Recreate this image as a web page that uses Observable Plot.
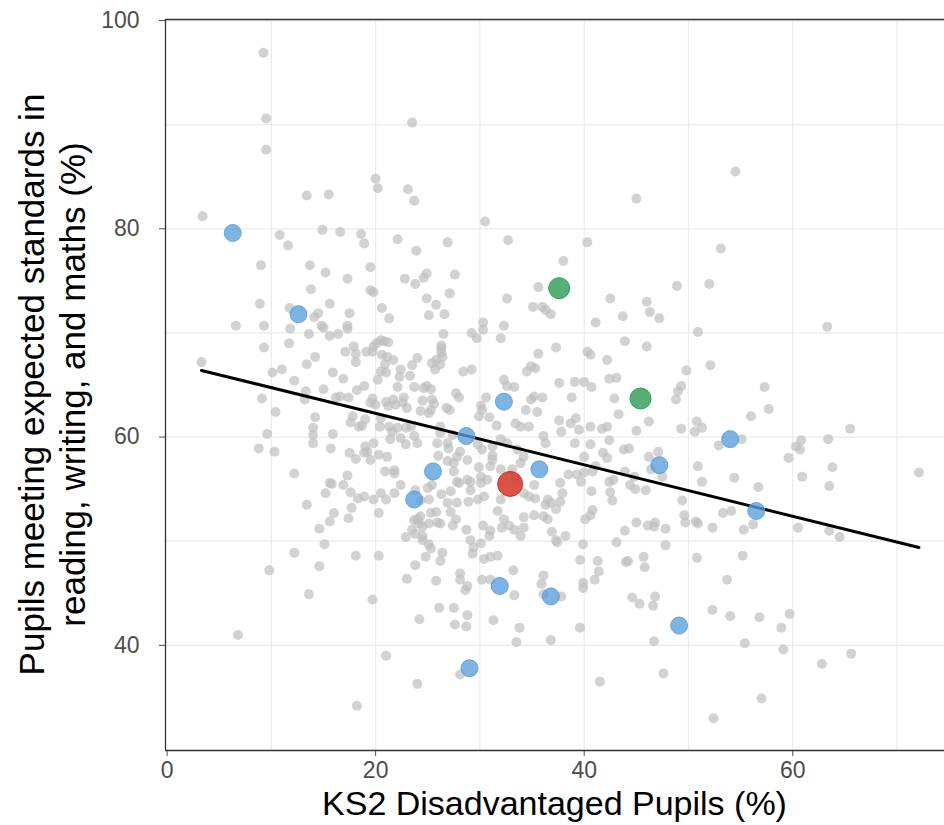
<!DOCTYPE html>
<html>
<head>
<meta charset="utf-8">
<script src="https://cdn.jsdelivr.net/npm/d3@7"></script>
<script src="https://cdn.jsdelivr.net/npm/@observablehq/plot@0.6"></script>
<style>
  html, body { margin: 0; padding: 0; background: #fff; }
  #chart { width: 944px; height: 825px; }
</style>
</head>
<body>
<div id="chart"></div>
<script>
// ---- Data ----
const xTitle = "KS2 Disadvantaged Pupils (%)";
const yTitleLines = ["Pupils meeting expected standards in", "reading, writing, and maths (%)"];
const xTicks = [0, 20, 40, 60];
const yTicks = [40, 60, 80, 100];
const xGrid = [10, 20, 30, 40, 50, 60, 70];
const yGrid = [40, 50, 60, 70, 80, 90, 100];
const xDomain = [-0.15, 74.55];
const yDomain = [29.9, 100.1];

// grey: all other schools, as [x, y] pairs
const greyPoints = [
[9.25,96.9],[9.5,90.6],[9.5,87.6],[13.4,83.2],[15.5,83.3],[3.4,81.2],[10.8,79.4],[11.6,78.4],[14.9,79.9],[16.6,79.7],[18.6,79.5],[18.9,78.6],[9.0,76.5],[13.7,76.5],
[23.5,90.2],[20.0,84.8],[20.2,83.9],[23.1,83.8],[23.7,82.7],[30.5,80.7],[22.1,79.0],[23.9,77.9],[26.9,78.7],[32.7,78.9],[19.5,76.3],
[54.5,85.5],[45.0,82.9],[40.3,78.7],[38.0,76.9],[53.1,78.1],
[15.2,75.8],[17.3,75.2],[13.8,74.2],[8.9,72.8],[15.6,72.8],[11.75,72.4],[14.5,71.9],[14.1,71.5],[17.5,71.9],[6.6,70.7],[9.3,70.7],[14.8,70.7],[15.0,70.5],[17.3,70.7],[17.3,70.4],[11.8,70.4],[13.6,69.9],[15.6,69.7],[16.4,69.9],[9.3,68.6],[11.7,69.0],[17.9,68.7],[17.1,68.2],[14.2,67.7],[18.1,68.0],[18.1,67.2],[3.3,67.2],[13.4,67.0],[11.0,66.5],[10.1,66.2],[15.9,66.2],[16.9,65.6],[12.2,65.4],[15.0,64.6],[13.3,64.4],[18.2,64.5],[9.1,63.7],[13.2,63.6],[16.2,63.8],[16.6,63.9],[17.4,63.8],[10.4,62.4],[14.2,61.9],[17.8,62.0],[17.6,61.4],[18.4,61.0],[14.0,60.9],[14.0,60.2],[15.9,60.3],[9.6,60.3],[14.0,59.4],[8.8,58.9],[10.3,58.6],[15.7,58.9],[17.5,58.5],[18.1,57.9],[12.2,56.5],[17.3,56.3],[15.6,55.6],[15.8,55.5],[16.9,55.4],[15.2,54.6],[17.6,54.7],[18.3,54.1],[13.4,53.5],[17.7,53.2],
[16.0,52.7],[17.4,52.2],[15.6,51.9],[14.6,51.2],[15.1,49.7],[12.2,48.9],[18.1,48.6],[9.8,47.2],[14.6,47.6],[13.6,44.9],[6.8,41.0],[18.2,34.2],
[22.8,75.2],[23.8,74.7],[24.6,75.3],[24.9,75.7],[27.6,75.6],[19.5,74.1],[19.8,73.9],[24.9,73.3],[25.8,72.7],[27.1,73.8],[20.6,72.4],[21.3,71.4],[25.1,71.7],[26.6,71.8],[32.6,73.3],[35.6,74.4],[35.1,72.5],[36.0,72.5],[36.3,72.2],[36.8,71.8],[30.3,71.0],[30.3,70.3],[32.3,70.7],[29.2,70.0],[29.7,69.5],[32.0,69.5],[26.5,69.9],[26.3,68.8],[26.3,68.5],[20.5,69.3],[20.1,69.0],[19.8,68.7],[20.8,69.2],[21.2,69.1],[19.1,68.2],[19.7,68.2],[20.6,67.9],[21.1,67.7],[21.7,67.4],[26.3,68.1],[25.8,67.4],[26.4,67.7],[25.4,67.1],[26.2,67.0],[24.0,67.6],[23.5,66.9],[22.4,66.5],[20.9,67.0],[20.5,66.3],[21.0,66.2],[20.2,65.5],[25.7,66.5],[28.4,66.3],[29.2,66.5],[22.3,65.8],[23.3,65.9],[18.9,64.9],[22.1,64.8],[23.7,64.8],[24.6,64.7],[24.9,64.9],[25.3,64.6],[27.7,64.2],[28.0,63.8],[32.3,65.5],[32.6,64.9],[33.3,64.8],[34.5,66.3],[34.9,66.8],[35.3,66.6],[35.6,68.0],[30.6,63.8],[19.7,63.7],[19.5,63.3],[20.0,63.1],[21.0,63.4],[21.2,63.0],[21.7,63.6],[21.9,63.1],[22.7,63.8],[22.6,63.3],[23.0,62.8],[24.5,63.5],[25.4,63.6],[25.6,63.2],[24.3,62.5],[25.1,62.3],[25.3,62.6],[26.8,62.8],[27.1,62.6],[30.1,63.0],[30.2,62.6],[30.9,61.9],[31.6,61.1],[29.9,62.0],[33.4,61.3],[33.9,61.0],[34.7,61.0],[34.4,62.6],[34.9,63.6],[35.2,63.9],[36.0,63.8],[35.5,62.4],[18.7,61.1],[19.0,61.7],[20.5,61.8],[20.4,61.0],[21.3,61.0],[21.6,60.5],[22.1,60.9],[22.9,60.9],[23.4,61.0],[22.4,59.9],[23.7,60.1],[24.0,59.4],[22.9,59.3],[21.4,59.8],[19.8,59.4],[19.0,59.1],[18.9,58.5],[26.2,61.0],[26.2,60.4],[27.4,60.2],[26.9,59.4],[27.0,58.9],[25.9,59.4],[29.8,59.3],[30.2,58.8],[31.2,59.1],[31.2,58.2],[32.0,59.8],[32.6,59.4],[33.6,58.8],[33.9,57.5],[36.1,60.1],[36.3,59.4],[34.2,58.1],[19.2,58.6],[20.3,58.3],[21.1,58.1],[19.5,57.8],[20.9,56.7],[21.8,56.8],[21.8,56.5],[26.0,58.2],[26.9,57.7],[27.5,57.5],[27.8,58.1],[28.1,58.6],[28.8,57.8],[27.5,56.7],[27.8,55.7],[28.8,55.9],[29.1,55.7],[29.9,57.1],[30.1,56.2],[30.7,55.9],[31.0,57.2],[31.2,57.8],[30.1,55.6],[29.1,54.9],[28.9,53.8],[32.0,56.9],[33.1,56.9],[33.4,55.9],[35.2,55.4],[34.2,54.6],[34.7,54.3],[35.3,54.1],[36.5,54.0],[36.8,53.7],[36.3,53.5],[22.4,55.4],[21.8,54.6],[20.5,54.6],[21.0,54.0],[23.8,54.9],[25.0,55.1],[25.4,55.4],[26.3,54.5],[27.2,54.8],[28.0,55.6],[25.1,54.0],[24.3,53.9],[18.9,54.3],[19.8,54.0],[26.9,53.7],[27.8,53.7],[29.8,54.0],[30.4,54.3],[32.0,54.0],
[20.3,52.7],[24.0,52.1],[24.3,52.4],[23.7,52.0],[25.3,52.7],[25.8,52.8],[25.9,51.8],[25.1,51.7],[24.5,51.4],[24.2,51.7],[23.5,51.1],[24.5,50.5],[23.8,50.7],[22.9,50.4],[24.5,50.1],[25.1,49.7],[25.3,49.3],[26.2,51.7],[27.2,52.8],[27.7,52.1],[27.4,51.5],[26.4,48.9],[26.2,48.1],[24.8,48.5],[23.8,47.7],[23.0,46.4],[25.8,46.2],[20.3,48.6],[19.7,44.4],[28.7,51.1],[29.1,50.1],[29.4,49.4],[29.3,48.8],[30.1,49.8],[30.3,51.5],[31.0,51.0],[30.9,50.5],[31.7,52.9],[32.3,52.1],[32.1,51.3],[32.8,51.5],[33.3,51.1],[33.9,50.5],[34.2,51.3],[34.2,52.3],[35.2,52.5],[36.1,52.4],[36.5,52.1],[36.9,50.9],[37.3,50.1],[30.4,48.3],[31.0,48.5],[31.7,48.6],[28.1,46.9],[28.1,46.3],[28.8,45.7],[28.6,45.3],[30.2,46.3],[31.0,46.3],[33.2,47.2],[33.3,44.8],[36.1,46.7],[35.9,45.9],[36.1,44.9],[26.1,43.6],[27.5,43.6],[28.8,42.9],[27.6,42.0],[28.7,41.8],[24.2,42.5],[31.3,42.4],[33.8,41.7],[33.5,40.3],[36.8,40.5],[21.0,39.0],[24.0,36.3],[28.1,37.2],
[48.9,74.5],[52.0,74.7],[42.5,73.3],[46.0,73.0],[46.3,72.0],[47.2,71.4],[43.7,71.6],[41.1,71.0],[50.9,70.1],[43.9,69.2],[46.0,68.7],[40.3,68.2],[40.6,67.9],[42.2,67.4],[37.3,68.6],[49.8,66.4],[52.1,66.9],[42.4,65.6],[43.1,65.7],[37.6,65.2],[39.1,65.3],[40.0,65.3],[40.7,64.8],[49.3,64.9],[49.0,64.4],[48.8,63.6],[38.8,63.8],[42.9,63.7],[43.3,62.2],[37.6,61.6],[38.7,61.3],[39.2,61.8],[39.5,60.7],[37.8,60.5],[40.6,61.0],[41.7,60.8],[42.2,61.0],[45.0,60.6],[46.2,61.5],[49.3,60.8],[50.6,60.5],[50.8,61.5],[51.3,60.9],[56.0,62.0],[52.9,59.2],[55.1,59.8],[39.1,59.4],[40.6,59.3],[42.4,59.7],[41.8,58.5],[42.2,58.0],[40.0,58.1],[41.1,57.2],[43.8,58.8],[44.3,58.9],[46.2,58.1],[47.1,58.6],[46.4,56.9],[47.5,56.2],[43.9,56.7],[44.8,56.2],[38.5,56.4],[39.3,56.4],[40.0,56.6],[40.8,56.7],[37.7,55.6],[39.7,55.7],[42.4,55.7],[42.8,55.9],[44.4,55.4],[44.9,55.0],[45.9,54.9],[40.7,54.8],[42.5,54.7],[42.7,53.9],[37.9,54.6],[37.7,53.8],[49.4,53.9],[50.9,57.2],[51.3,55.7],[54.4,56.1],
[37.3,53.1],[40.8,53.0],[40.6,52.5],[40.1,52.1],[38.2,50.5],[37.4,49.9],[39.9,49.7],[43.1,49.9],[43.9,51.0],[45.0,51.8],[46.1,51.5],[46.8,51.8],[46.7,51.4],[47.8,51.2],[47.8,49.6],[49.6,52.5],[49.7,51.8],[50.7,51.9],[50.9,51.7],[52.3,51.3],[53.3,52.7],[54.1,52.9],[55.3,51.1],[39.6,48.2],[41.3,48.1],[41.4,47.1],[41.0,46.3],[39.9,46.0],[39.9,45.5],[44.0,48.0],[44.2,48.1],[45.7,48.5],[45.8,47.5],[50.8,48.4],[53.7,46.3],[55.2,48.6],[37.8,44.7],[44.6,44.6],[45.3,44.0],[46.8,44.7],[46.6,43.8],[52.3,43.4],[54.0,42.8],[39.6,41.7],[46.7,40.4],[55.4,40.2],[47.6,37.3],[41.5,36.5],[52.4,33.0],
[63.3,70.6],[57.3,64.8],[57.7,62.7],[65.5,60.8],[60.8,59.7],[60.3,59.1],[60.7,58.8],[59.6,58.0],[63.4,59.8],[63.8,57.1],[60.9,56.2],[63.5,55.3],[72.1,56.6],[56.7,55.2],
[56.2,51.6],[60.5,51.3],[63.5,51.0],[64.5,50.4],[56.8,42.7],[59.7,43.0],[58.9,41.7],[59.1,39.6],[62.8,38.2],[65.6,39.2],[57.0,34.9]
];

// highlighted schools
const bluePoints = [[6.3,79.6],[12.6,71.8],[32.3,63.4],[28.7,60.1],[25.5,56.7],[35.7,56.9],[23.7,54.0],[31.9,45.7],[36.8,44.7],[29.0,37.8],[49.1,41.9],[47.2,57.3],[54.0,59.8],[56.5,52.9]];
const greenPoints = [[37.6,74.3],[45.4,63.7]];
const redPoints = [[32.9,55.5]];

// fitted linear trend (endpoints)
const trendX = [3.3, 72.1];
const trendY = [66.4, 49.4];

// ---- Build ----
const toObj = ([x, y]) => ({x, y});
const grey = greyPoints.map(toObj);
const blue = bluePoints.map(toObj);
const green = greenPoints.map(toObj);
const red = redPoints.map(toObj);
const trend = trendX.map((x, i) => ({x, y: trendY[i]}));

const chart = Plot.plot({
  width: 944,
  height: 825,
  marginLeft: 165,
  marginRight: 0,
  marginTop: 19,
  marginBottom: 75,
  style: {fontFamily: "'Liberation Sans', Arial, sans-serif", fontSize: "23px", color: "#4d4d4d", background: "#fff", overflow: "visible"},
  x: {domain: xDomain, ticks: xTicks, tickSize: 6, tickPadding: 5, label: null},
  y: {domain: yDomain, ticks: yTicks, tickSize: 6, tickPadding: 20, label: null},
  marks: [
    Plot.ruleX(xGrid, {stroke: "#ebebeb", strokeWidth: 1.2}),
    Plot.ruleY(yGrid, {stroke: "#ebebeb", strokeWidth: 1.2}),
    Plot.dot(grey, {x: "x", y: "y", r: 5, fill: "#bdbdbd", fillOpacity: 0.68, stroke: "none"}),
    Plot.line(trend, {x: "x", y: "y", stroke: "#000", strokeWidth: 3}),
    Plot.dot(blue, {x: "x", y: "y", r: 8.5, fill: "#5a9fdc", fillOpacity: 0.78, stroke: "#5a9fdc", strokeOpacity: 0.9, strokeWidth: 1}),
    Plot.dot(green, {x: "x", y: "y", r: 10.5, fill: "#2f9e58", fillOpacity: 0.82, stroke: "#2f9e58", strokeWidth: 1}),
    Plot.dot(red, {x: "x", y: "y", r: 12.5, fill: "#d63a2e", fillOpacity: 0.88, stroke: "#c93328", strokeWidth: 1}),
    Plot.ruleX([xDomain[0]], {stroke: "#333", strokeWidth: 1.3}),
    Plot.ruleY([yDomain[0], yDomain[1]], {stroke: "#333", strokeWidth: 1.3})
  ]
});

const svg = d3.select(chart);
svg.append("text")
  .attr("x", (165 + 944) / 2)
  .attr("y", 815)
  .attr("text-anchor", "middle")
  .attr("fill", "#000")
  .style("font-size", "34px")
  .text(xTitle);

const yt = svg.append("text")
  .attr("transform", `translate(0, ${(19 + 750) / 2}) rotate(-90)`)
  .attr("text-anchor", "middle")
  .attr("fill", "#000")
  .style("font-size", "35px");
yTitleLines.forEach((t, i) => {
  yt.append("tspan").attr("x", 0).attr("y", 44 + i * 41).text(t);
});

document.getElementById("chart").appendChild(chart);
</script>
</body>
</html>
